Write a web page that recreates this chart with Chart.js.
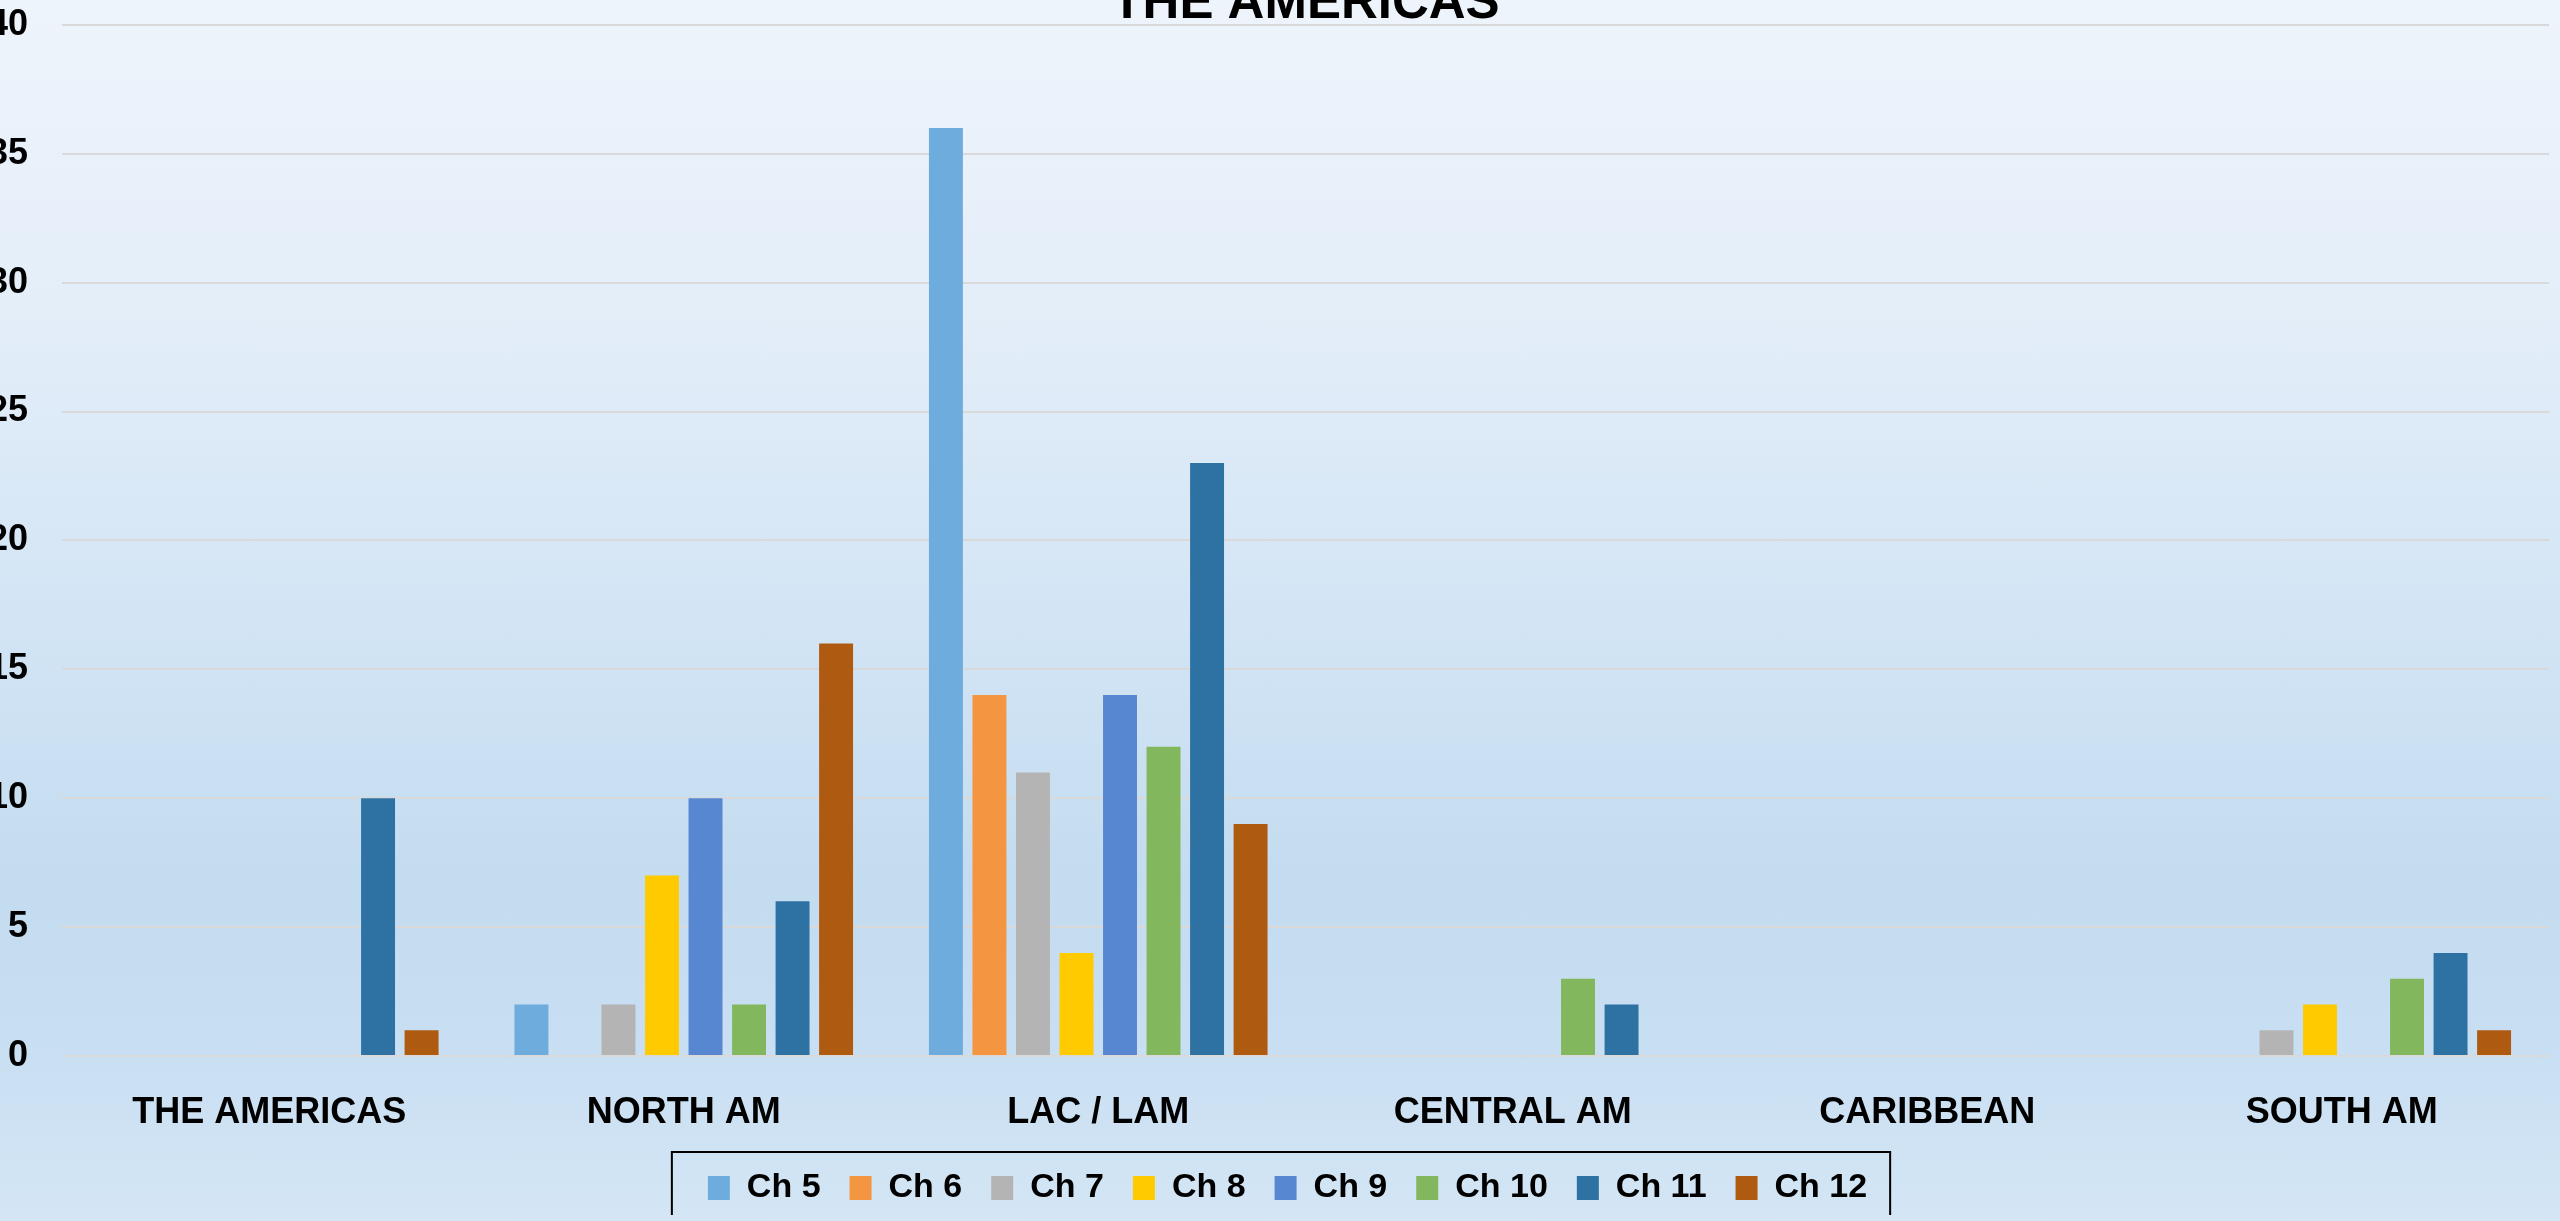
<!DOCTYPE html>
<html>
<head>
<meta charset="utf-8">
<script src="https://cdn.jsdelivr.net/npm/chart.js@4.4.1/dist/chart.umd.min.js"></script>
<style>
  html, body { margin: 0; padding: 0; overflow: hidden; }
  body {
    width: 2560px; height: 1221px; position: relative;
    background: linear-gradient(to bottom, #eef4fb 0%, #e4eef9 25%, #d3e5f5 50%, #c4dcf0 72%, #c8def2 85%, #d4e6f5 100%);
  }
  #wrap { position: absolute; left: 0; top: -40px; width: 2560px; height: 1255px; }
</style>
</head>
<body>
<div id="wrap"><canvas id="chart"></canvas></div>
<script>
// categories and series
const categories = ["THE AMERICAS", "NORTH AM", "LAC / LAM", "CENTRAL AM", "CARIBBEAN", "SOUTH AM"];
const ch5  = [null, 2, 36, null, null, null];
const ch6  = [null, null, 14, null, null, null];
const ch7  = [null, 2, 11, null, null, 1];
const ch8  = [null, 7, 4, null, null, 2];
const ch9  = [null, 10, 14, null, null, null];
const ch10 = [null, 2, 12, 3, null, 3];
const ch11 = [10, 6, 23, 2, null, 4];
const ch12 = [1, 16, 9, null, null, 1];
const yTicks = [0, 5, 10, 15, 20, 25, 30, 35, 40];

const seriesNames = ["Ch 5", "Ch 6", "Ch 7", "Ch 8", "Ch 9", "Ch 10", "Ch 11", "Ch 12"];
const seriesData = [ch5, ch6, ch7, ch8, ch9, ch10, ch11, ch12];
const seriesColors = ["#6eacdd", "#f39541", "#b4b4b4", "#ffca00", "#5787d0", "#82b75d", "#2e72a3", "#ae5a10"];

// nudge the legend a bit right, then frame it in black (frame runs off the page bottom)
const legendFrame = {
  id: "legendFrame",
  afterLayout(chart) {
    chart.legend.left += 13;
    chart.legend.right += 13;
  },
  afterDraw(chart) {
    const boxes = chart.legend.legendHitBoxes;
    if (!boxes || !boxes.length) return;
    let l = Infinity, r = -Infinity, t = Infinity;
    boxes.forEach(b => { l = Math.min(l, b.left); r = Math.max(r, b.left + b.width); t = Math.min(t, b.top); });
    const mid = t + boxes[0].height / 2;
    const ctx = chart.ctx;
    ctx.save();
    ctx.strokeStyle = "#000";
    ctx.lineWidth = 2;
    ctx.strokeRect(l - 36, mid - 36, (r - l) + 36 + 23, 200);
    ctx.restore();
  }
};

Chart.defaults.font.family = "'Liberation Sans', Arial, sans-serif";
Chart.defaults.color = "#000";

new Chart(document.getElementById("chart").getContext("2d"), {
  type: "bar",
  data: {
    labels: categories,
    datasets: seriesNames.map((name, i) => ({
      label: name,
      data: seriesData[i],
      backgroundColor: seriesColors[i],
      borderWidth: 0,
      categoryPercentage: 0.84,
      barPercentage: 0.78
    }))
  },
  options: {
    responsive: true,
    maintainAspectRatio: false,
    animation: false,
    layout: { padding: { left: 0, right: 11, top: 0, bottom: 0 } },
    plugins: {
      title: {
        display: true,
        fullSize: false,
        text: "THE AMERICAS",
        font: { size: 51, weight: "bold", lineHeight: 0.8 },
        padding: { top: 24, bottom: 0 }
      },
      legend: {
        position: "bottom",
        labels: {
          boxWidth: 22,
          boxHeight: 24,
          padding: 29,
          font: { size: 34, weight: "bold" }
        }
      },
      tooltip: { enabled: false }
    },
    scales: {
      x: {
        grid: { display: false, drawTicks: false },
        border: { display: false },
        ticks: { padding: 35, font: { size: 36, weight: "bold" } },
        afterFit(scale) { scale.height = 86; }
      },
      y: {
        min: 0,
        max: 40,
        afterBuildTicks(scale) { scale.ticks = yTicks.map(v => ({ value: v })); },
        grid: { color: "#d9d9d9", lineWidth: 2, drawTicks: false },
        border: { display: false },
        ticks: { padding: 34, font: { size: 36, weight: "bold" } },
        afterFit(scale) { scale.width = 62; }
      }
    }
  },
  plugins: [legendFrame]
});
</script>
</body>
</html>
